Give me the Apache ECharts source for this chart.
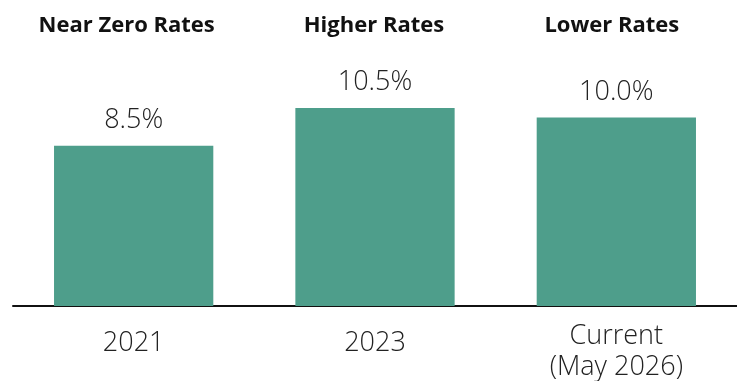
<!DOCTYPE html>
<html>
<head>
<meta charset="utf-8">
<script src="https://cdn.jsdelivr.net/npm/echarts@6/dist/echarts.min.js"></script>
<style>
  html, body { margin: 0; padding: 0; background: #fff; }
  #chart { width: 737px; height: 381px; }
</style>
</head>
<body>
<div id="chart"></div>
<script>
// Rate regimes and their values (%)
const categories = ['2021', '2023', 'Current\n(May 2026)'];
const regimes = ['Near Zero Rates', 'Higher Rates', 'Lower Rates'];
const values = [8.5, 10.5, 10.0];

// small horizontal nudges for the regime headings (right padding, px)
const headerNudge = [14, 2, 9];

const chart = echarts.init(document.getElementById('chart'));
const font = '"Open Sans", "Noto Sans", sans-serif';

chart.setOption({
  animation: false,
  grid: { left: 13, right: 0, top: 42, bottom: 75, outerBoundsMode: 'none', containLabel: false },
  xAxis: [
    {
      type: 'category',
      data: categories.map(c => ({
        value: c,
        textStyle: {
          verticalAlign: 'top',
          padding: c.indexOf('\n') >= 0 ? [2, 0, 0, 0] : [9, 0, 0, 0]
        }
      })),
      axisLine: { lineStyle: { color: '#111', width: 2 } },
      axisTick: { show: false },
      axisLabel: {
        interval: 0,
        margin: 13,
        fontFamily: font,
        fontWeight: 300,
        fontSize: 27,
        lineHeight: 31,
        color: '#222',
        verticalAlign: 'top'
      }
    },
    {
      type: 'category',
      position: 'top',
      data: regimes.map((r, i) => ({
        value: r,
        textStyle: { verticalAlign: 'middle', padding: [0, headerNudge[i], 0, 0] }
      })),
      axisLine: { show: false },
      axisTick: { show: false },
      axisLabel: {
        interval: 0,
        margin: 16,
        fontFamily: font,
        fontWeight: 700,
        fontSize: 22,
        color: '#111',
        verticalAlign: 'middle'
      }
    }
  ],
  yAxis: {
    type: 'value',
    min: 0,
    max: 14,
    show: false,
    splitLine: { show: false }
  },
  series: [{
    type: 'bar',
    data: values,
    barWidth: '66%',
    itemStyle: { color: '#4E9E8B' },
    label: {
      show: true,
      position: 'top',
      distance: 12,
      formatter: p => p.value.toFixed(1) + '%',
      fontFamily: font,
      fontWeight: 300,
      fontSize: 27,
      color: '#222'
    }
  }]
});
</script>
</body>
</html>
